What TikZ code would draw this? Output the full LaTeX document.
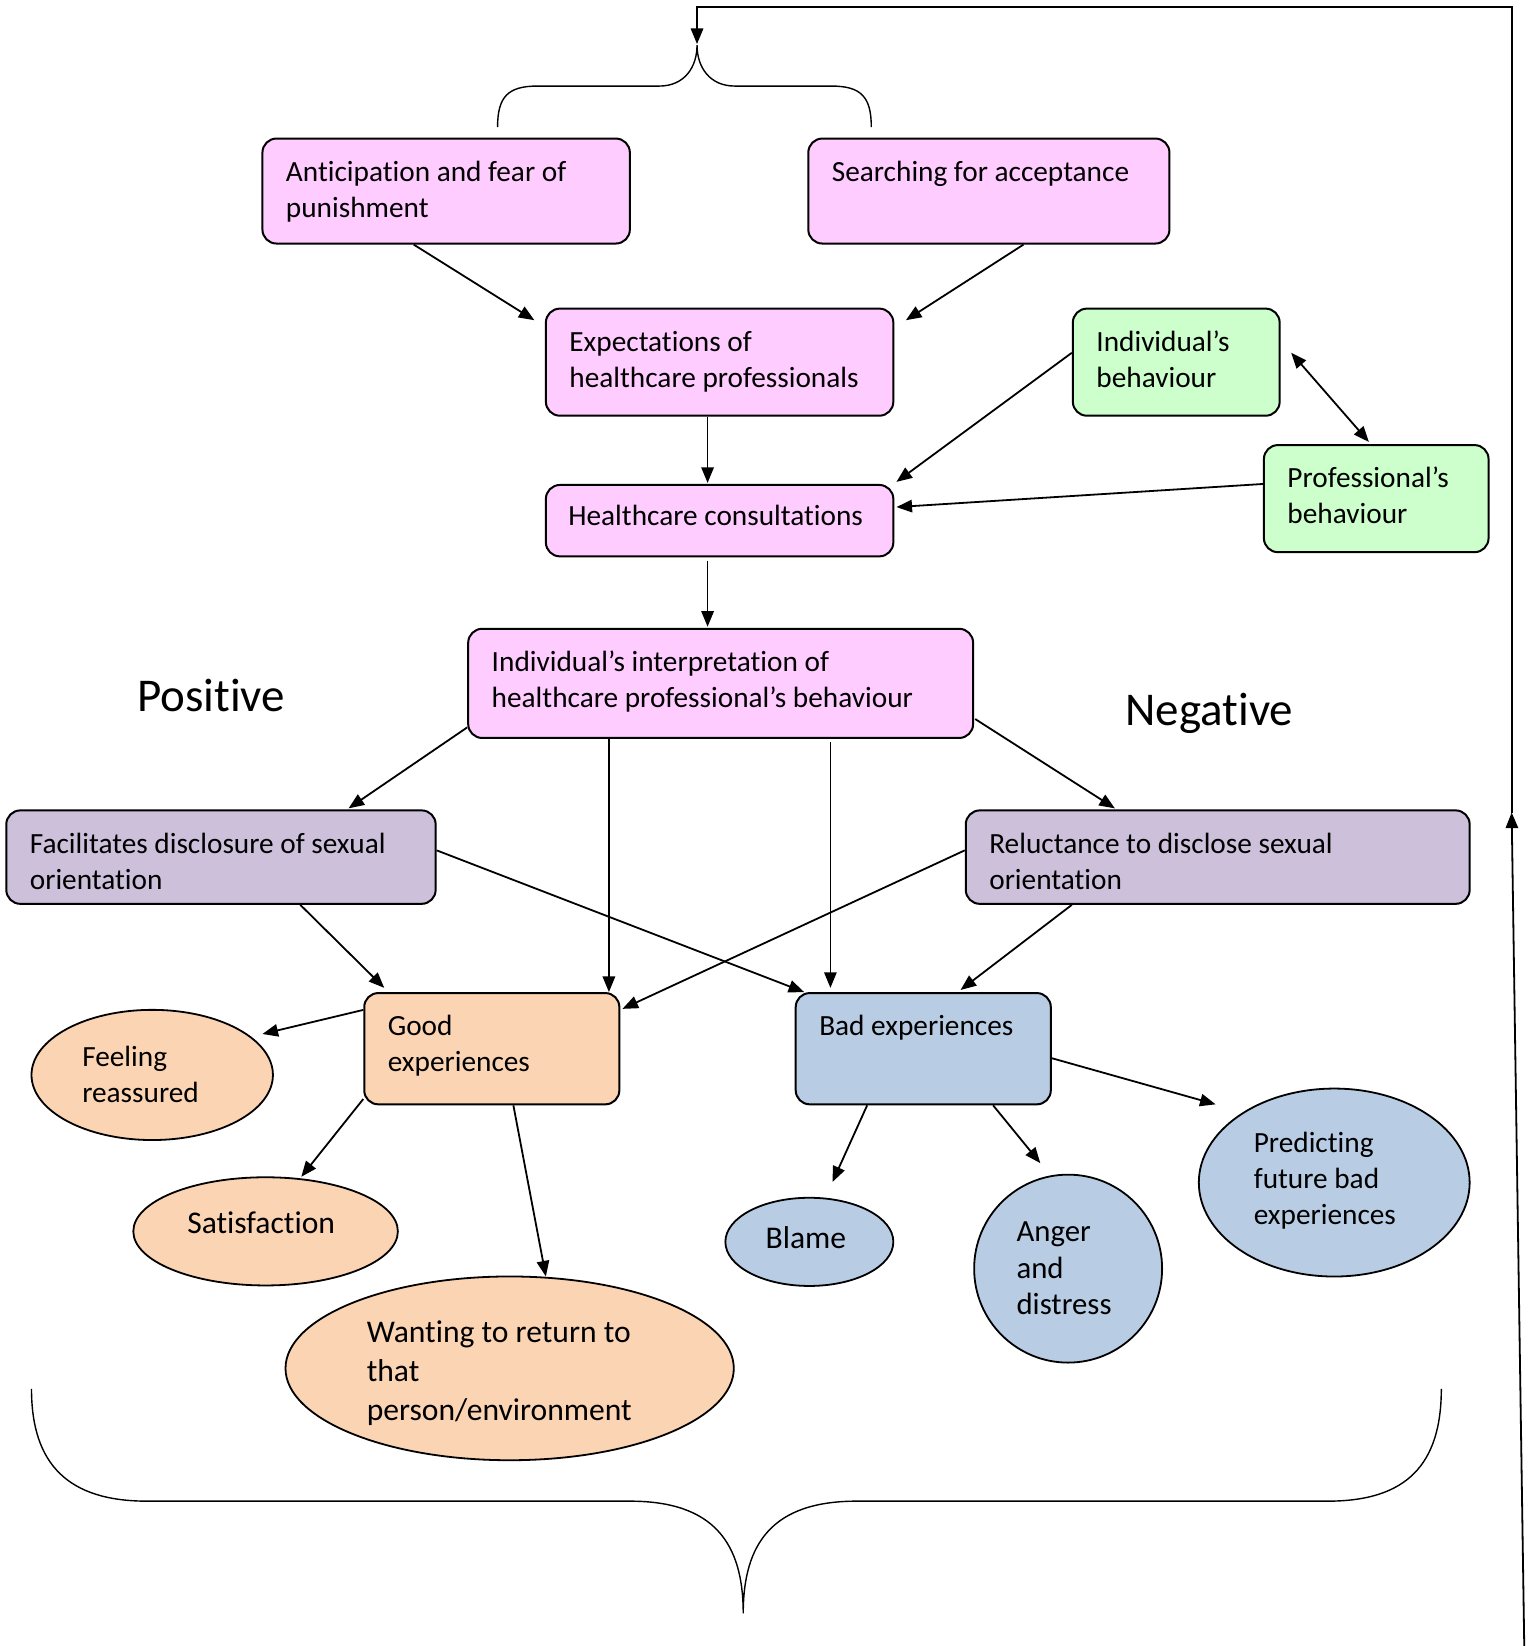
\documentclass[tikz,border=0pt]{standalone}
\usepackage{fontspec}
\setmainfont{Carlito}[RawFeature={-liga;-clig;-calt;-dlig}]
\usetikzlibrary{arrows.meta,shapes.geometric,fit,calc}
\definecolor{pinkc}{HTML}{FFCCFF}
\definecolor{greenc}{HTML}{CCFFCC}
\definecolor{purpc}{HTML}{CCC0DA}
\definecolor{orc}{HTML}{FBD4B4}
\definecolor{bluec}{HTML}{B8CCE4}
\tikzset{
  bx/.style={draw, line width=1pt, rounded corners=7pt, inner sep=0pt},
  pk/.style={bx, fill=pinkc},
  gr/.style={bx, fill=greenc},
  pu/.style={bx, fill=purpc},
  ob/.style={bx, fill=orc},
  bb/.style={bx, fill=bluec},
  el/.style={draw, ellipse, line width=0.9pt, inner sep=0pt},
  tx/.style={anchor=north west, inner sep=0pt, align=left, font=\fontsize{14.65}{17.9}\selectfont},
  txb/.style={anchor=north west, inner sep=0pt, align=left, font=\fontsize{15.8}{19.4}\selectfont},
  txa/.style={anchor=north west, inner sep=0pt, align=left, font=\fontsize{15.4}{18.4}\selectfont},
  big/.style={inner sep=0pt, font=\fontsize{23.5}{28}\selectfont},
  arr/.style={line width=0.9pt, -{Triangle[length=7.8pt,width=6.2pt]}},
  darr/.style={line width=0.9pt, {Triangle[length=7.8pt,width=6.2pt]}-{Triangle[length=7.8pt,width=6.2pt]}},
  brc/.style={line width=0.7pt},
}
\newcommand\mybox[5]{%
  \node[#1, fit={#3 #4}] (#2) {};
  \node[tx] (#2t) at ($(#2.north west)+(23,17.5)$) {\strut #5};}
\begin{document}
\begin{tikzpicture}[x=0.525pt, y=-0.525pt]
\useasboundingbox (0,0) rectangle (1461,1568);

% boxes
\mybox{pk}{ant}{(250,132)}{(600,232)}{Anticipation and fear of\\punishment}
\mybox{pk}{srch}{(770,132)}{(1114,232)}{Searching for acceptance}
\mybox{pk}{exp}{(520,294)}{(851,396)}{Expectations of\\healthcare professionals}
\mybox{gr}{indb}{(1022,294)}{(1219,396)}{Individual’s\\behaviour}
\mybox{gr}{profb}{(1204,424)}{(1418,526)}{Professional’s\\behaviour}
\node[pk, fit={(520,462) (851,530)}] (hc) {};
\node[tx] (hct) at ($(hc.north west)+(22,15.5)$) {\strut Healthcare consultations};
\mybox{pk}{interp}{(446,599)}{(927,703)}{Individual’s interpretation of\\healthcare professional’s behaviour}
\mybox{pu}{fac}{(6,772)}{(415,861)}{Facilitates disclosure of sexual\\orientation}
\mybox{pu}{rel}{(920,772)}{(1400,861)}{Reluctance to disclose sexual\\orientation}
\mybox{ob}{good}{(347,946)}{(590,1052)}{Good\\experiences}
\mybox{bb}{bad}{(758,946)}{(1001,1052)}{Bad experiences}

% labels
\node[big] (pos) at (201,663) {Positive};
\node[big] (neg) at (1152,680) {Negative};

% ellipses
\node[el, fill=orc, minimum width=120.75pt, minimum height=65.1pt] (feel) at (145,1024) {};
\node[tx] (feelt) at ($(feel.center)+(-67,-32)$) {\strut Feeling\\reassured};
\node[el, fill=orc, minimum width=132.3pt, minimum height=54.1pt] (sat) at (253,1173) {};
\node[txb] (satt) at ($(sat.center)+(-75,-24)$) {\strut Satisfaction};
\node[el, fill=orc, minimum width=224.2pt, minimum height=91.9pt] (want) at (485.5,1303.5) {};
\node[txb] (wantt) at ($(want.center)+(-136.5,-50.5)$) {\strut Wanting to return to\\that\\person/environment};
\node[el, fill=bluec, minimum width=84pt, minimum height=44.1pt] (blame) at (771,1183) {};
\node[txb] (blamet) at ($(blame.center)+(-42,-20)$) {\strut Blame};
\node[el, fill=bluec, minimum width=94pt, minimum height=94pt] (anger) at (1017.5,1208.5) {};
\node[txa] (angert) at ($(anger.center)+(-49.5,-51)$) {\strut Anger\\and\\distress};
\node[el, fill=bluec, minimum width=135.45pt, minimum height=94pt] (pred) at (1271,1126.5) {};
\node[tx] (predt) at ($(pred.center)+(-77,-52.5)$) {\strut Predicting\\future bad\\experiences};

% arrows
\draw[arr] ($(ant.south west)+(145,0)$) -- ($(exp.north west)+(-10,12)$);
\draw[arr] ($(srch.south west)+(206,0)$) -- ($(exp.north east)+(11,12)$);
\draw[arr] ($(exp.south west)+(155,0)$) -- ($(hc.north west)+(155,-1)$);
\draw[arr] ($(indb.north west)+(0,43)$) -- ($(hc.north east)+(2,-2)$);
\draw[arr] ($(profb.north west)+(0,38)$) -- ($(hc.north east)+(2,22)$);
\draw[darr] ($(indb.north east)+(10,43)$) -- ($(profb.north west)+(101,-2)$);
\draw[arr] ($(hc.south west)+(155,3)$) -- ($(interp.north west)+(229,-1)$);
\draw[arr] ($(interp.south west)+(0,-11)$) -- ($(fac.north west)+(327,-1)$);
\draw[arr] ($(interp.south west)+(135,0)$) -- ($(good.north west)+(234,0)$);
\draw[arr] ($(interp.south west)+(346,3)$) -- ($(bad.north west)+(34,-4)$);
\draw[arr] ($(interp.south east)+(1,-19)$) -- ($(rel.north west)+(143,-1)$);
\draw[arr] ($(fac.south west)+(281,0)$) -- ($(good.north west)+(20,-4)$);
\draw[arr] ($(fac.north east)+(0,39)$) -- ($(bad.north west)+(9,0)$);
\draw[arr] ($(rel.north west)+(0,39)$) -- ($(good.north east)+(2,16)$);
\draw[arr] ($(rel.south west)+(102,0)$) -- ($(bad.north west)+(158,-2)$);
\draw[arr] ($(good.north west)+(0,17)$) -- ($(feel.center)+(105,-39)$);
\draw[arr] ($(good.south west)+(0,-6)$) -- ($(sat.center)+(34,-52)$);
\draw[arr] ($(good.south west)+(143,0)$) -- ($(want.center)+(34.5,-87.5)$);
\draw[arr] ($(bad.south west)+(69,0)$) -- ($(blame.center)+(22,-57)$);
\draw[arr] ($(bad.south west)+(189,0)$) -- ($(anger.center)+(-26.5,-100.5)$);
\draw[arr] ($(bad.north east)+(0,63)$) -- ($(pred.center)+(-113,-74.5)$);

% braces
\coordinate (ttip) at (664,43);
\coordinate (btip) at (708,1537);
\draw[brc] (474,121) .. controls (474,92) and (484,82) .. (512,82) -- (628,82)
  .. controls (652,82) and (664,64) .. (ttip)
  .. controls (664,64) and (676,82) .. (700,82) -- (792,82)
  .. controls (820,82) and (830,92) .. (830,121);
\draw[brc] (30,1323) .. controls (30,1395) and (65,1430) .. (140,1430) -- (600,1430)
  .. controls (680,1430) and (708,1470) .. (btip)
  .. controls (708,1470) and (736,1430) .. (816,1430) -- (1265,1430)
  .. controls (1340,1430) and (1373,1395) .. (1373,1323);

% feedback loop
\coordinate (fbs) at (1452,1568);
\coordinate (fbm) at (1440,774);
\coordinate (fbtr) at (1440,7);
\coordinate (fbtl) at (664,7);
\coordinate (fbe) at (664,42);
\draw[arr] (fbs) -- (fbm);
\draw[arr] (fbm) -- (fbtr) -- (fbtl) -- (fbe);
\end{tikzpicture}
\end{document}
